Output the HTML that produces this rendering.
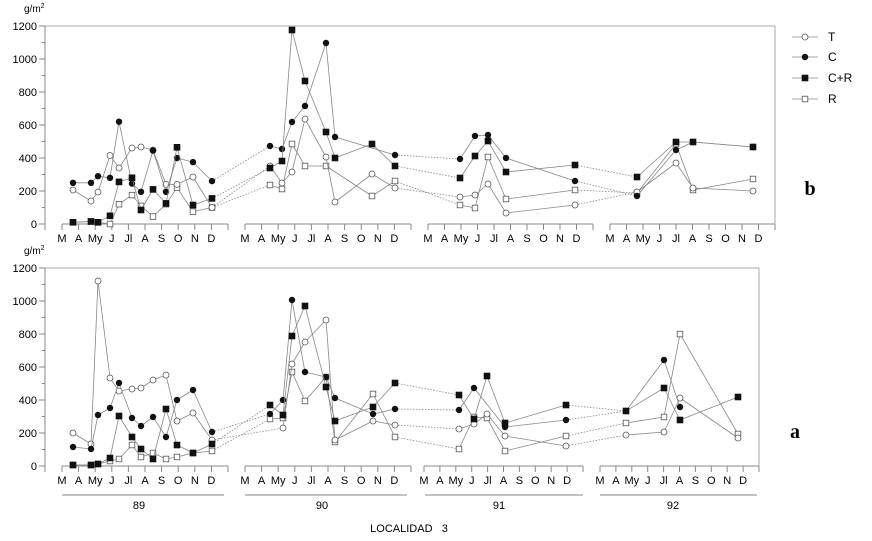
<!DOCTYPE html>
<html><head><meta charset="utf-8">
<style>
html,body{margin:0;padding:0;background:#fff;}
svg{display:block;font-family:"Liberation Sans",sans-serif;}
</style></head>
<body>
<svg id="s" width="872" height="541" viewBox="0 0 872 541" xmlns="http://www.w3.org/2000/svg"></svg>
<script>
(function(){
const S=document.getElementById('s');let h='';
function L(x1,y1,x2,y2,c,w,d){h+=`<line x1="${x1}" y1="${y1}" x2="${x2}" y2="${y2}" stroke="${c||'#888'}" stroke-width="${w||1}"${d?` stroke-dasharray="${d}"`:''}/>`;}
function T(x,y,t,a,sz,extra){h+=`<text x="${x}" y="${y}" font-size="${sz||11}" text-anchor="${a||'middle'}" fill="#000" ${extra||''}>${t}</text>`;}
const months=['M','A','My','J','Jl','A','S','O','N','D'];
function panel(y0,yTop,right,segs,labelY){
  L(45,yTop,45,y0+6,'#888');
  for(let v=0;v<=1200;v+=100){const y=y0-v*(y0-yTop)/1200;L(v%200?42:39,y,45,y,'#888');
    if(v%200==0)T(37,y+4,v,'end',11);}
  L(45,yTop,right,yTop,'#aaa');L(right,yTop,right,y0,'#aaa');
  segs.forEach(([s,st])=>{L(s,y0,s+10*st,y0,'#888');
    for(let i=0;i<=10;i++)L(s+i*st,y0,s+i*st,y0+6,'#888');
    months.forEach((m,i)=>T(s+i*st,labelY,m,'middle',11));});
}
panel(224,26,775,[[62,16.6],[245,16.6],[428,16.5],[610,16.5]],242);
panel(466,268,759,[[62,16.6],[245,16.6],[424,15.9],[600,15.9]],484);
T(24,12,'g/m<tspan font-size="7" dy="-4">2</tspan>','start',10);
T(24,254,'g/m<tspan font-size="7" dy="-4">2</tspan>','start',10);
[[62,224,139,'89'],[245,407,322,'90'],[425,583,499,'91'],[600,757,673,'92']].forEach(([a,b,c,t])=>{L(a,495,b,495,'#888');T(c,509,t,'middle',11);});
T(409,532,'LOCALIDAD&#160;&#160;&#160;3','middle',11);
T(810,195,'b','middle',20,'font-weight="bold" font-family="Liberation Serif,serif"');
T(795,438,'a','middle',20,'font-weight="bold" font-family="Liberation Serif,serif"');
function mk(x,y,t){
  if(t=='T')h+=`<circle cx="${x}" cy="${y}" r="3" fill="#fff" stroke="#555" stroke-width="0.8"/>`;
  else if(t=='C')h+=`<circle cx="${x}" cy="${y}" r="3.2" fill="#111"/>`;
  else if(t=='CR')h+=`<rect x="${x-3.3}" y="${y-3.3}" width="6.6" height="6.6" fill="#111"/>`;
  else h+=`<rect x="${x-2.8}" y="${y-2.8}" width="5.6" height="5.6" fill="#fff" stroke="#555" stroke-width="0.8"/>`;
}
function series(pts,t){
  for(let i=1;i<pts.length;i++){const[a,b,ya]=pts[i-1],[c,d,yb]=pts[i];const dash=(ya!=yb)?'1.5,1.5':null;L(a,b,c,d,'#888',0.8,dash);}
  pts.forEach(p=>mk(p[0],p[1],t));
}
const X89=[73,91,98,110,119,132,141,153,166,177,193,212];
const X90=[270,282,292,305,326,335,372,395];
const X91=[460,475,488,506,575];
const X92=[637,676,693,753];
const topD={
 T:[[190,201,192,155.5,168,148,147,150,184.4,184.4,177,207.5],[166,183,172,119,157,202,174,188],[197,195,184,213,205],[192,163,188,191]],
 C:[[182.8,182.8,176.2,177.8,121.7,183.6,191.8,150.6,191.8,158,162.1,181.1],[146,149,122,106,43,137,null,155],[159,136,135,158,181],[196,150,142,147]],
 CR:[[222.3,221.5,222.3,215.8,181.9,177.8,210,189.4,203.4,147.3,205,198.4],[168,161,30,81,132,158,144,166],[178,156,141,172,165],[177,142,142,147]],
 R:[[222.3,221.5,222.3,224,204.2,195.1,205.9,216.6,204.2,187.7,211.6,207.5],[185,189,144,166,166,null,196,181],[205,208,157,199,190],[193,144,190,179]]
};
const botD={
 T:[[433,444,281,378,391,389,388,380,375,421,413,440],[null,428,364,342,320,440,421,425],[429,424,414,436,446],[435,432,398,438]],
 C:[[447,449,415,408,383,418,426,417,437,400,390,432],[414,400,300,372,377,398,414,409],[410,388,null,427,420],[411,360,407,null]],
 CR:[[465,465,464,458,416,437,449,459,409,445,453,444],[405,415,336,306,387,421,407,383],[395,419,376,423,405],[411,388,420,397]],
 R:[[465,465,464,461,459,445,457,453,459,457,453,451],[419,418,372,401,377,442,394,437],[449,417,418,451,436],[423,417,334,434]]
};
const BX90=[270,283,292,305,326,335,373,395],BX91=[459,474,487,505,566],BX92=[626,664,680,738];
function build(d,xs){const p=[];d.forEach((arr,k)=>arr.forEach((y,i)=>{if(y!=null)p.push([xs[k][i],y,k]);}));return p;}
['R','T','C','CR'].forEach(k=>{series(build(topD[k],[X89,X90,X91,X92]),k);series(build(botD[k],[X89,BX90,BX91,BX92]),k);});
[['T','T',37],['C','C',57],['CR','C+R',78],['R','R',99]].forEach(([k,t,y])=>{L(792,y,818,y,'#888',0.8);mk(805,y,k);T(828,y+4,t,'start',12);});
S.innerHTML=h;
})();
</script>
</body></html>
